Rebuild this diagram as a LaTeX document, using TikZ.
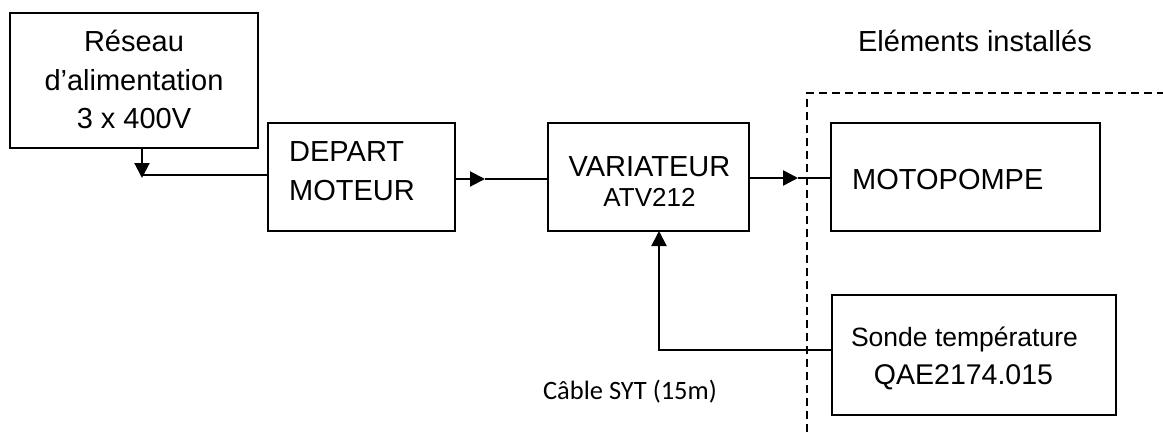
\documentclass[tikz,border=0pt]{standalone}
\usepackage{fontspec}
\setmainfont{Liberation Sans}
\newfontfamily\calib{Carlito}
\usetikzlibrary{arrows.meta}
\begin{document}
\begin{tikzpicture}[x=1pt,y=-1pt,
  box/.style={draw,line width=2pt,rectangle,inner sep=0pt,outer sep=0pt},
  lbl/.style={inner sep=0pt,anchor=base,font=\fontsize{29}{35}\selectfont},
  lblw/.style={inner sep=0pt,anchor=base west,font=\fontsize{29}{35}\selectfont},
  conn/.style={line width=2pt},
  arr/.style={line width=2pt,-{Triangle[width=15pt,length=15pt]}},
  sep/.style={line width=1.8pt,dash pattern=on 8pt off 5pt}]
\useasboundingbox (0,0) rectangle (1163,432);
% boxes
\node[box,minimum width=248pt,minimum height=135pt] (res) at (134,80.5) {};
\node[box,minimum width=187pt,minimum height=108pt] (dep) at (361.5,177) {};
\node[box,minimum width=201pt,minimum height=108pt] (var) at (648.5,177) {};
\node[box,minimum width=269pt,minimum height=108pt] (mot) at (965.5,177) {};
\node[box,minimum width=284pt,minimum height=120pt] (son) at (974,355) {};
% texts
\node[lbl] (t1) at (134,51.5) {Réseau};
\node[lbl] (t2) at (134,90) {d’alimentation};
\node[lbl] (t3) at (134,128) {3 x 400V};
\node[lblw] (t4) at (289,161.5) {DEPART};
\node[lblw] (t5) at (289,200) {MOTEUR};
\node[lbl] (t6) at (649.5,176) {VARIATEUR};
\node[lbl,font=\fontsize{26}{31}\selectfont] (t7) at (649.5,206.5) {ATV212};
\node[lblw] (t8) at (852,189) {MOTOPOMPE};
\node[lbl,font=\fontsize{26.5}{31}\selectfont] (t9) at (964.5,346.5) {Sonde température};
\node[lbl,font=\fontsize{28.5}{33}\selectfont] (t10) at (963.5,384) {QAE2174.015};
\node[lbl] (t11) at (975,51) {Eléments installés};
\node[inner sep=0pt,anchor=base,font=\calib\fontsize{26.5}{31}\selectfont] (t12) at (630,399.5) {Câble SYT (15m)};
% dashed boundary
\coordinate (dtop) at (807,93);
\coordinate (dbot) at (807,432);
\coordinate (dright) at (1163,93);
\draw[sep] (dbot) -- (dtop) -- (dright);
% connectors
\coordinate (a1) at (142,178);
\coordinate (a2) at (142,175);
\draw[arr] (res.south -| a1) -- (a1);
\draw[conn] (a2) -- (dep.west |- a2);
\coordinate (b1) at (485,179);
\draw[arr] (dep.east |- b1) -- (b1);
\draw[conn] (b1) -- (var.west |- b1);
\coordinate (c1) at (798,178);
\draw[arr,line width=2.6pt] (var.east |- c1) -- (c1);
\draw[conn] (c1) -- (mot.west |- c1);
\coordinate (d1) at (659,350);
\draw[arr] (son.west |- d1) -- (d1) -- (var.south -| d1);
\end{tikzpicture}
\end{document}
